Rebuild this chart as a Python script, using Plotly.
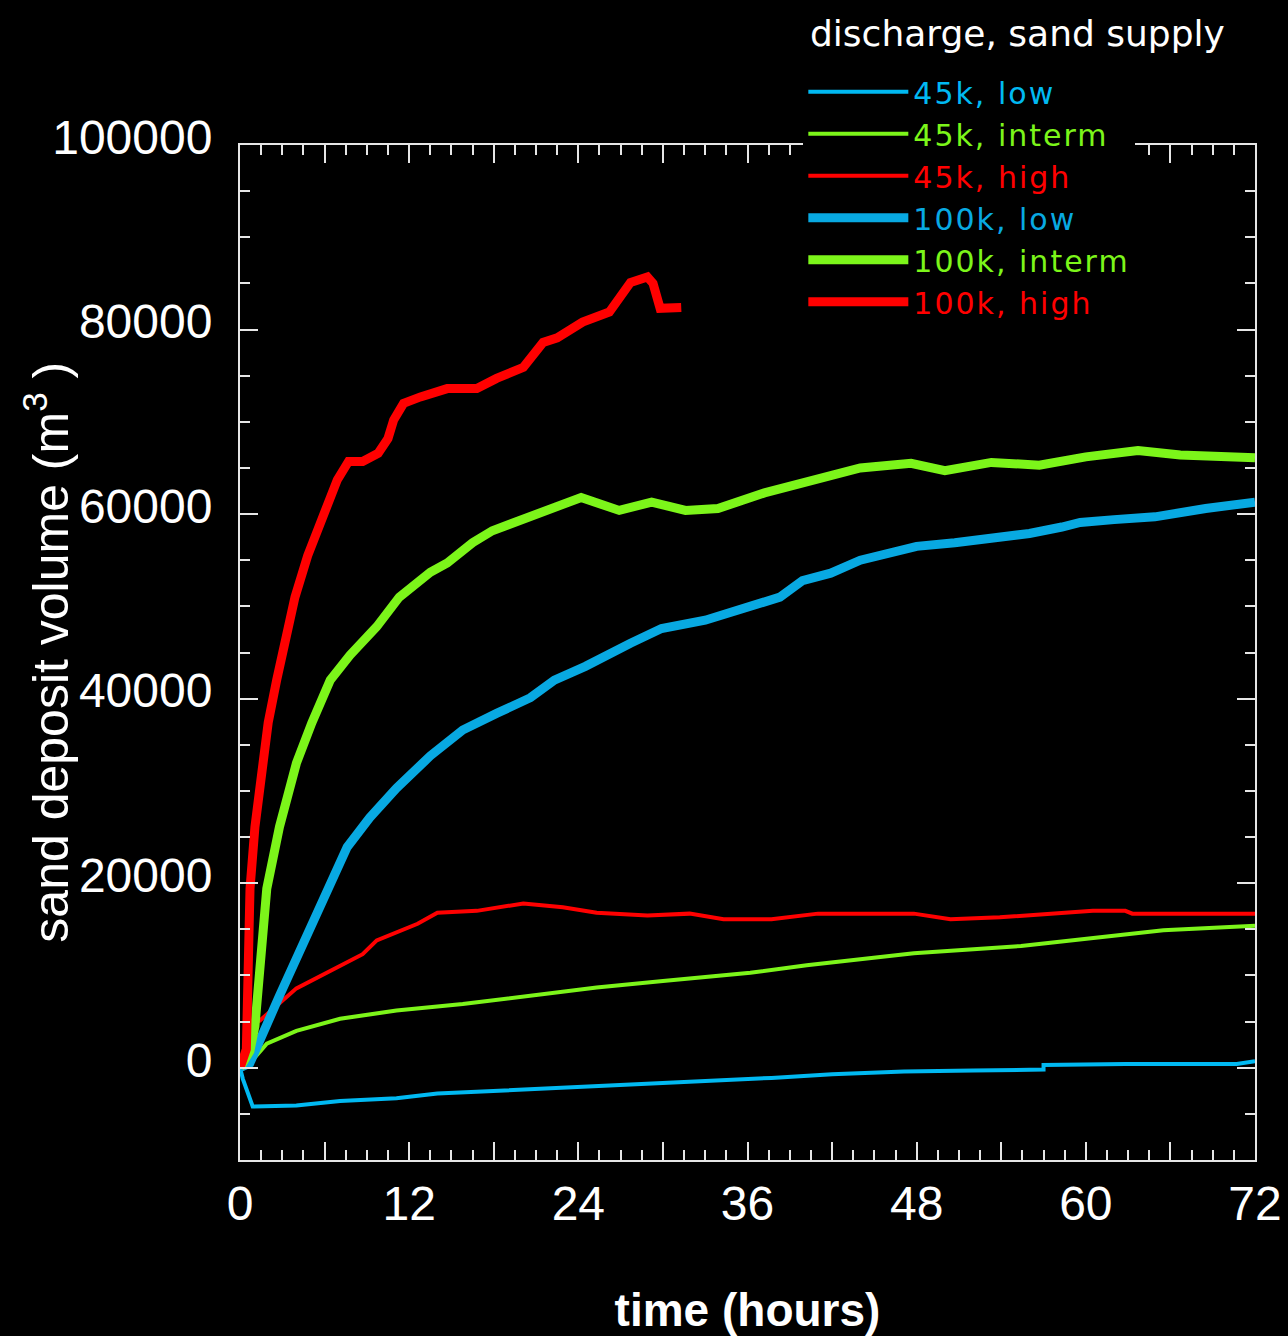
import plotly.graph_objects as go

# ---------------- data (hours, m^3) ----------------
T_45K_LOW = [0, 0.2, 0.9, 4.0, 7.1, 11.1, 14.0, 18.2, 22.9, 28.9, 32.6, 37.7, 42.0, 47.1, 52.0, 57.0, 57.0, 62.8, 70.7, 72.0]
V_45K_LOW = [0, -1200, -4200, -4100, -3600, -3300, -2800, -2500, -2200, -1700, -1500, -1100, -700, -400, -300, -200, 300, 400, 400, 700]

T_45K_INT = [0, 0.7, 1.9, 4.0, 7.1, 11.1, 15.8, 20.6, 25.3, 30.0, 32.6, 36.2, 40.2, 47.8, 55.4, 60.5, 65.5, 72.0]
V_45K_INT = [0, 500, 2600, 4000, 5300, 6200, 6900, 7800, 8700, 9400, 9800, 10300, 11100, 12400, 13200, 14100, 14900, 15400]

T_45K_HIGH = [0, 0.5, 0.7, 1.4, 4.0, 7.1, 8.7, 9.7, 12.6, 14.0, 16.8, 20.1, 22.9, 25.3, 28.9, 31.9, 34.3, 37.7, 41.0, 47.8, 50.4, 53.9, 58.0, 60.5, 62.8, 63.3, 72.0]
V_45K_HIGH = [0, 1000, 4800, 5100, 8600, 11100, 12300, 13800, 15600, 16800, 17000, 17800, 17400, 16800, 16500, 16700, 16100, 16100, 16700, 16700, 16100, 16300, 16700, 17000, 17000, 16700, 16700]

T_100K_LOW = [0, 0.5, 0.7, 2.8, 4.75, 6.4, 7.6, 9.2, 11.1, 13.5, 15.8, 18.2, 20.6, 22.3, 24.5, 27.7, 29.9, 33.0, 36.0, 38.3, 39.9, 41.9, 44.0, 46.1, 48.0, 50.7, 53.0, 56.0, 58.3, 59.6, 62.0, 64.9, 68.5, 72.0]
V_100K_LOW = [0, 400, 500, 7800, 14500, 19800, 23900, 27100, 30300, 33800, 36600, 38400, 40100, 42000, 43500, 46000, 47600, 48500, 50000, 51000, 52800, 53600, 55000, 55900, 56500, 56900, 57300, 57900, 58600, 59100, 59400, 59700, 60600, 61300]

T_100K_INT = [0, 0.7, 1.06, 1.42, 1.9, 2.8, 4.0, 5.1, 6.4, 7.8, 9.7, 11.3, 13.5, 14.7, 16.5, 17.9, 19.9, 21.6, 24.2, 26.9, 29.2, 31.6, 33.9, 37.2, 40.6, 44.0, 47.6, 50.0, 53.3, 56.7, 60.0, 63.7, 66.7, 72.0]
V_100K_INT = [0, 1800, 4500, 10300, 19400, 26100, 33000, 37400, 42000, 44700, 47800, 51000, 53700, 54700, 56900, 58200, 59300, 60400, 61800, 60400, 61300, 60400, 60600, 62300, 63700, 65000, 65500, 64700, 65600, 65300, 66200, 66900, 66400, 66100]

T_100K_HIGH = [0, 0.45, 0.6, 0.71, 1.06, 1.56, 2.0, 2.6, 3.2, 3.9, 4.8, 5.9, 6.9, 7.7, 8.7, 9.8, 10.5, 10.9, 11.6, 12.8, 14.7, 16.8, 18.2, 20.1, 21.5, 22.5, 24.3, 26.2, 27.7, 28.9, 29.3, 29.8, 30.3, 31.3]
V_100K_HIGH = [0, 2000, 12000, 19400, 26100, 31600, 37400, 42000, 46500, 51000, 55500, 60100, 63700, 65700, 65700, 66600, 68200, 70200, 72000, 72700, 73600, 73600, 74700, 75900, 78600, 79100, 80800, 81900, 85100, 85700, 85000, 82300, 82400, 82400]

SERIES_NAMES = ["45k, low", "45k, interm", "45k, high", "100k, low", "100k, interm", "100k, high"]
LEGEND_TITLE = "discharge, sand supply"

X_TICK_VALS = [0, 6, 12, 18, 24, 30, 36, 42, 48, 54, 60, 66, 72]
X_TICK_TEXT = ["0", "", "12", "", "24", "", "36", "", "48", "", "60", "", "72"]
Y_TICK_VALS = [0, 20000, 40000, 60000, 80000, 100000]
Y_TICK_TEXT = ["0", "20000", "40000", "60000", "80000", "100000"]

# ---------------- style ----------------
BLUE_THIN = "#00B9F2"
BLUE_THICK = "#08A9E2"
GREEN = "#7CF51A"
RED = "#FF0000"
FRAME = "#E6E6E6"

series = [
    (T_45K_LOW, V_45K_LOW, SERIES_NAMES[0], BLUE_THIN, 4),
    (T_45K_INT, V_45K_INT, SERIES_NAMES[1], GREEN, 4),
    (T_45K_HIGH, V_45K_HIGH, SERIES_NAMES[2], RED, 4),
    (T_100K_LOW, V_100K_LOW, SERIES_NAMES[3], BLUE_THICK, 9),
    (T_100K_INT, V_100K_INT, SERIES_NAMES[4], GREEN, 9),
    (T_100K_HIGH, V_100K_HIGH, SERIES_NAMES[5], RED, 9),
]

fig = go.Figure()
for t, v, name, color, w in series:
    fig.add_trace(go.Scatter(
        x=t, y=v, mode="lines",
        name=f'<span style="color:{color};letter-spacing:2px">{name}</span>',
        line=dict(color=color, width=w, shape="linear"),
    ))

axis_common = dict(
    showline=True, linecolor=FRAME, linewidth=2, mirror="allticks",
    ticks="inside", ticklen=18, tickwidth=2, tickcolor=FRAME,
    showgrid=False, zeroline=False,
    tickfont=dict(family="Liberation Sans, Arial", size=48, color="white"),
)

fig.update_xaxes(
    range=[0, 72], tickmode="array", tickvals=X_TICK_VALS, ticktext=X_TICK_TEXT,
    minor=dict(dtick=1.5, ticklen=10, tickwidth=2, tickcolor=FRAME, ticks="inside", showgrid=False),
    title=dict(text="<b>time (hours)</b>", font=dict(family="Liberation Sans, Arial", size=46, color="white"), standoff=70),
    ticklabelstandoff=0,
    **axis_common,
)
fig.update_yaxes(
    range=[-10000, 100000], tickmode="array", tickvals=Y_TICK_VALS, ticktext=Y_TICK_TEXT,
    minor=dict(dtick=5000, ticklen=10, tickwidth=2, tickcolor=FRAME, ticks="inside", showgrid=False),
    ticklabelstandoff=16, ticklabelshift=-8,
    **axis_common,
)

fig.add_annotation(
    text="sand deposit volume (m<sup>3</sup> )", xref="paper", yref="paper",
    x=-0.191, y=0.5, xanchor="center", yanchor="middle", textangle=-90, showarrow=False,
    font=dict(family="Liberation Sans, Arial", size=50, color="white"),
)
fig.add_annotation(
    text=LEGEND_TITLE, xref="paper", yref="paper",
    x=0.5596, y=1.110, xanchor="left", yanchor="middle", showarrow=False,
    font=dict(family="DejaVu Sans", size=36, color="white"),
)

fig.update_layout(
    width=1288, height=1336,
    margin=dict(l=240, r=33, t=145, b=176, autoexpand=False),
    paper_bgcolor="black", plot_bgcolor="black",
    showlegend=True,
    legend=dict(
        x=0.555, y=1.078, xanchor="left", yanchor="top",
        bgcolor="black", borderwidth=0,
        font=dict(family="DejaVu Sans", size=30, color="white"),
        itemwidth=100, tracegroupgap=0,
    ),
)

fig.write_html("out.html")
